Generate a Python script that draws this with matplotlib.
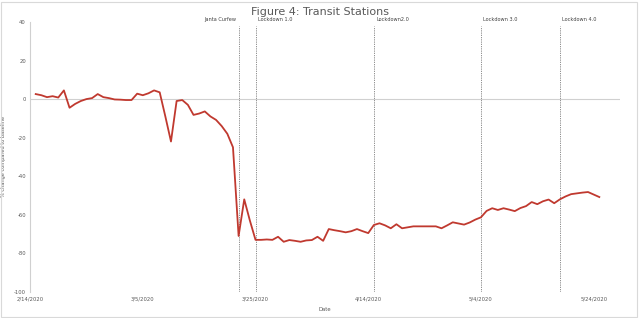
import matplotlib
matplotlib.use("Agg")
import matplotlib.pyplot as plt
import matplotlib.dates as mdates
import pandas as pd
from matplotlib.patches import Rectangle

# ---- data ----
start_date = "2020-02-15"
transit_values = [
    2.6, 2.0, 1.0, 1.5, 0.8, 4.5, -4.5, -2.5, -1.0, 0.0,
    0.5, 2.6, 1.0, 0.5, -0.2, -0.3, -0.5, -0.5, 2.8, 2.0,
    3.0, 4.5, 3.5, -9.0, -22.0, -1.0, -0.5, -3.0, -8.2, -7.5,
    -6.4, -9.0, -10.8, -14.0, -18.0, -25.0, -71.0, -52.0, -63.0, -73.0,
    -73.0, -72.8, -73.0, -71.4, -74.0, -73.1, -73.5, -74.0, -73.3, -73.1,
    -71.4, -73.5, -67.4, -68.0, -68.5, -69.1, -68.5, -67.4, -68.5, -69.5,
    -65.3, -64.4, -65.5, -67.0, -64.9, -67.0, -66.5, -66.0, -66.0, -66.0,
    -66.0, -66.0, -67.0, -65.5, -63.9, -64.5, -65.1, -64.0, -62.5, -61.3,
    -58.0, -56.6, -57.5, -56.6, -57.3, -58.1, -56.5, -55.5, -53.4, -54.5,
    -53.0, -52.1, -54.0, -52.0, -50.5, -49.3, -48.9, -48.5, -48.2, -49.5,
    -50.8,
]
event_labels = ["Janta Curfew", "Lockdown 1.0", "Lockdown2.0", "Lockdown 3.0", "Lockdown 4.0"]
event_dates = ["2020-03-22", "2020-03-25", "2020-04-15", "2020-05-04", "2020-05-18"]
tick_dates = ["2020-02-14", "2020-03-05", "2020-03-25", "2020-04-14", "2020-05-04", "2020-05-24"]
tick_labels = ["2/14/2020", "3/5/2020", "3/25/2020", "4/14/2020", "5/4/2020", "5/24/2020"]
y_ticks = [40, 20, 0, -20, -40, -60, -80, -100]
title = "Figure 4: Transit Stations"

dates = pd.date_range(start_date, periods=len(transit_values), freq="D")

fig = plt.figure(figsize=(6.4, 3.18), dpi=100)
fig.patch.set_facecolor("white")
fig.patches.append(Rectangle((0.002, 0.004), 0.993, 0.99, transform=fig.transFigure,
                             fill=False, edgecolor="#d9d9d9", linewidth=0.8))

ax = fig.add_axes([0.047, 0.082, 0.922, 0.849])
grey = "#595959"

ax.plot(dates, transit_values, color="#c0392f", linewidth=1.3, solid_joinstyle="round")

x0 = pd.Timestamp("2020-02-14")
ax.set_xlim(x0, x0 + pd.Timedelta(days=104.7))
ax.set_ylim(-100, 40)

ax.axhline(0, color="#d0d0d0", linewidth=0.8, zorder=0)

for lab, d in zip(event_labels, event_dates):
    dt = pd.Timestamp(d)
    ax.axvline(dt, ymin=0, ymax=0.985, color="#7f7f7f", linestyle=(0, (1.5, 1.2)),
               linewidth=0.6, zorder=1)
    if lab == "Janta Curfew":
        ax.text(dt - pd.Timedelta(days=0.5), 40.2, lab, ha="right", va="bottom",
                fontsize=3.6, color="#404040")
    else:
        ax.text(dt + pd.Timedelta(days=0.4), 40.2, lab, ha="left", va="bottom",
                fontsize=3.6, color="#404040")

ax.set_xticks([pd.Timestamp(t) for t in tick_dates])
ax.set_xticklabels(tick_labels)
ax.set_yticks(y_ticks)
ax.set_yticklabels([str(v) for v in y_ticks])
ax.tick_params(axis="both", length=0, labelsize=3.8, colors=grey, pad=3)

for s in ["top", "right", "bottom"]:
    ax.spines[s].set_visible(False)
ax.spines["left"].set_color("#d0d0d0")
ax.spines["left"].set_linewidth(0.8)

ax.set_ylabel("% change compared to baseline", fontsize=3.6, color=grey, labelpad=6)
ax.set_xlabel("Date", fontsize=3.8, color=grey, labelpad=4)

fig.text(0.5, 0.962, title, ha="center", va="center", fontsize=8, color=grey)

fig.savefig("out.png", dpi=100, facecolor="white")
